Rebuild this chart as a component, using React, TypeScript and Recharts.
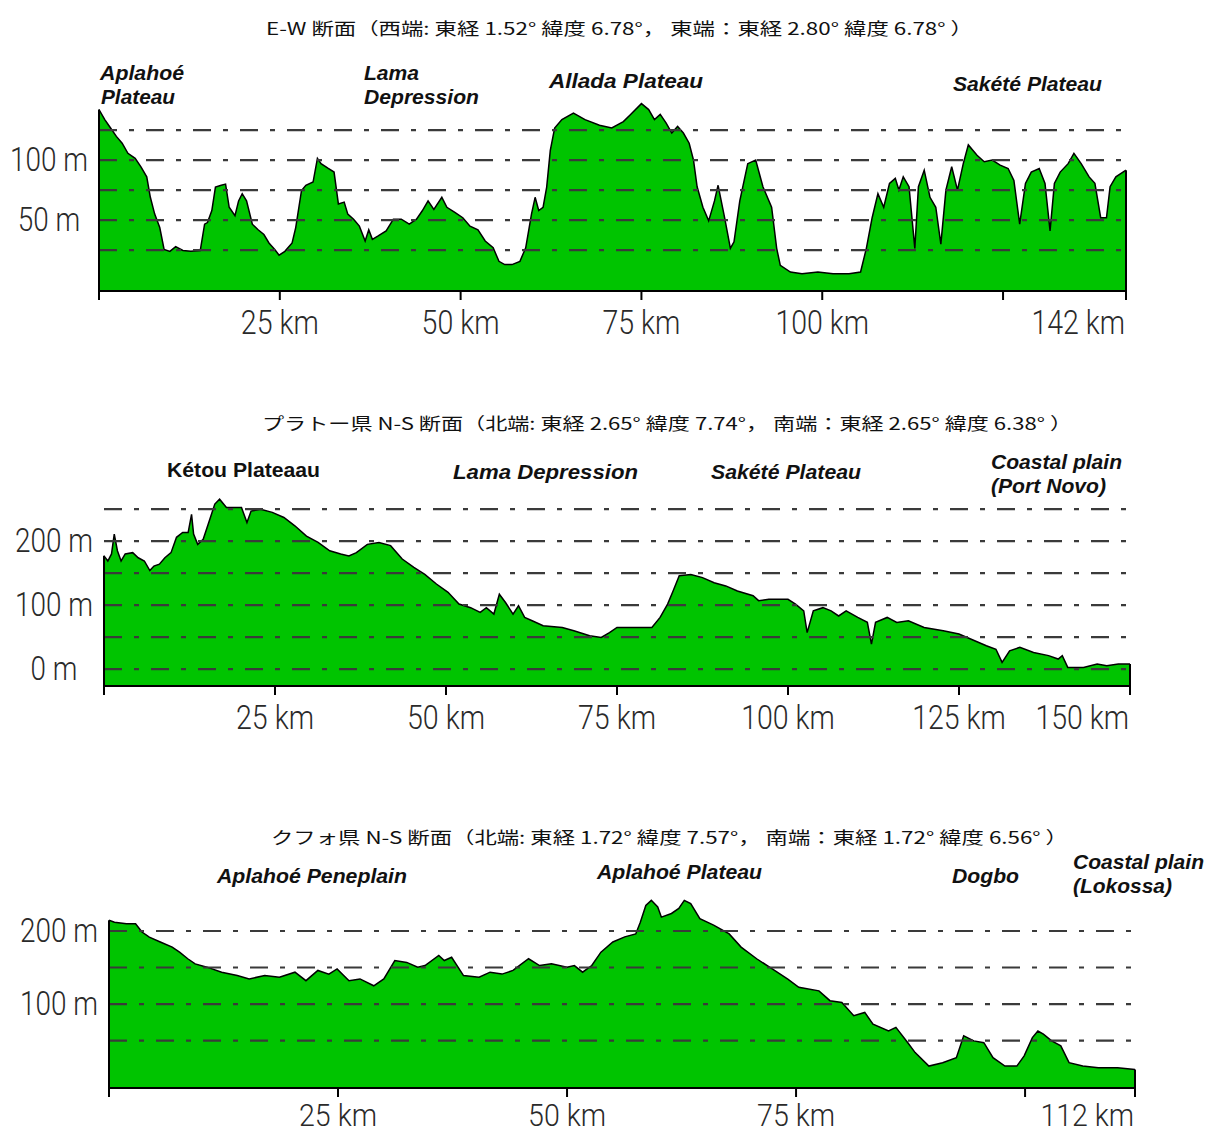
import React from 'react';
import { AreaChart, Area, XAxis, YAxis, ReferenceLine } from 'recharts';

// ---------- Chart 1 : E-W profile ----------
const EW_KM = [0, 0.8, 1.6, 2.4, 3.2, 4, 5, 5.8, 6.6, 7.1, 7.7, 8.4, 9, 9.8, 10.6, 11.6, 12.7, 14, 14.6, 15, 15.6, 16.1, 16.9, 17.5, 18, 18.8, 19.3, 19.8, 20.4, 21.2, 22, 22.8, 23.5, 24.3, 24.9, 25.7, 26.7, 27.2, 28, 28.6, 29.6, 30.2, 30.7, 31.7, 32.5, 33.1, 33.9, 34.4, 35.2, 36, 36.8, 37.3, 37.8, 38.6, 39.7, 40.7, 41.8, 42.9, 43.9, 44.7, 45.5, 46.3, 47.4, 48.1, 49.2, 50.3, 51.3, 52.4, 53.4, 54.5, 55.3, 56.1, 57.1, 58.2, 59, 59.8, 60.3, 60.8, 61.4, 61.9, 62.4, 63, 64, 65.6, 67.2, 69.2, 70.9, 72.5, 73.5, 75, 76, 76.8, 77.6, 78.4, 79.2, 80, 80.8, 81.6, 82.2, 82.7, 83.5, 84.3, 85.1, 85.6, 86.5, 87.3, 87.8, 88.6, 89.7, 90.8, 91.8, 93, 93.7, 94.2, 95.6, 97.2, 99.4, 101.5, 103.7, 105.3, 106.1, 106.9, 107.7, 108.5, 109.3, 110.1, 110.6, 111.2, 112, 112.8, 113.3, 114.1, 114.9, 115.7, 116.4, 117.1, 117.9, 118.7, 119.5, 120.2, 121.4, 122.4, 123.5, 124.6, 125.7, 126.5, 127.3, 128.1, 128.9, 130, 130.8, 131.5, 132.1, 132.9, 134, 134.8, 135.8, 136.9, 137.7, 138.5, 139.3, 139.8, 140.6, 142];
const EW_M = [142, 133.7, 126.7, 119.7, 114, 105.6, 101.4, 94.4, 86, 69, 55, 43.8, 25.6, 24, 28, 24.7, 24, 24.7, 46.6, 48, 58, 77.5, 79, 80, 60.7, 53.7, 66, 72, 66, 46.6, 42, 38, 31, 25.6, 20.8, 24, 31, 43.8, 74.7, 79, 81.7, 101.4, 97, 93, 90, 63.5, 65, 55, 50.8, 45, 32.6, 42, 34, 36.8, 41, 50.8, 50.8, 46.6, 50.8, 57.8, 66, 59, 69, 60.7, 56.5, 52, 45, 42, 32.6, 27, 15.7, 13, 13, 15.7, 27, 55, 69, 58, 60.7, 77.5, 108, 126.7, 133.7, 139, 133.7, 129, 126.7, 132, 138, 147, 142, 133.7, 138, 131, 122.5, 128, 122.5, 114, 100, 77.8, 60.7, 49.4, 66, 79, 52, 26.5, 32, 66, 97, 100, 77.8, 60.7, 26.5, 12.4, 6.8, 5.4, 6.8, 5.4, 5.4, 6.8, 26.5, 52, 72, 60.7, 80.6, 84.8, 75, 86, 77.8, 26.5, 77.8, 91.6, 69, 60.7, 30, 75, 94.4, 75, 97, 112.6, 104, 98.6, 100, 95.8, 93, 83, 46.6, 80.6, 90, 93, 80.6, 41, 80.6, 90, 97, 105.6, 97, 86, 80.6, 52, 52, 77.8, 86, 91.6];
const EW_XTICKS = [0, 25, 50, 75, 100, 125, 142];
const EW_XLABELED = [25, 50, 75, 100, 142];
const EW_GRID = [25, 50, 75, 100, 125];
const EW_YLABELED = [50, 100];

// ---------- Chart 2 : Plateau N-S profile ----------
const PL_KM = [0, 0.56, 1.1, 1.5, 1.96, 2.5, 3.1, 4.2, 5, 5.9, 6.7, 7.3, 8.1, 8.9, 9.8, 10.6, 11.5, 12.3, 12.8, 13.1, 13.7, 14.5, 15.4, 16.2, 16.9, 17.9, 19, 20.1, 20.9, 21.5, 22.9, 24.6, 26.3, 27.9, 29.6, 31.3, 33, 34.6, 35.8, 36.9, 38.5, 40.2, 41.9, 43.6, 45.3, 46.9, 48.6, 50.3, 51.9, 53.6, 55, 55.9, 57, 57.8, 58.7, 59.8, 60.6, 61.5, 62.6, 64.2, 67, 68.7, 71, 72.7, 73.9, 75, 77.3, 80.1, 81.3, 82.4, 83.2, 84.1, 85.8, 87.5, 89.2, 90.9, 92.6, 94.9, 95.7, 97.2, 100, 101.1, 102.3, 102.8, 103.7, 105.1, 106.3, 107.4, 108.5, 110.2, 111.6, 112.2, 112.8, 114.5, 115.9, 117.6, 119.9, 122.7, 125, 126.7, 129, 130.4, 131.3, 132.4, 133.9, 135.9, 138.1, 139.5, 140.1, 140.9, 143.2, 145.2, 146.6, 148.3, 150];
const PL_M = [177, 169, 180, 211, 185, 169, 180, 182, 174, 169, 154, 161, 164, 174, 182, 206, 213.5, 213.5, 242, 211, 195, 203, 232, 258, 265.6, 252.6, 252.6, 252.6, 229, 247, 250, 245, 237, 224, 208, 198, 185, 180, 177, 182, 195, 198, 193, 172, 159, 148, 133, 120, 101.6, 96, 88.5, 96, 86, 117, 104, 86, 99, 80.7, 75.5, 67.7, 65, 60, 52, 49.5, 57, 65, 65, 65, 80.7, 101.6, 122, 146, 148, 143, 135, 130, 122, 114.6, 107, 109, 109, 101.6, 91, 57, 91, 96, 91, 83, 91, 80.7, 73, 39, 73, 80.7, 73, 75.5, 65, 60, 54.7, 47, 36.5, 31, 10.4, 28.6, 34, 26, 21, 15.6, 21, 2.6, 2.6, 7.8, 5, 7.8, 7.8];
const PL_XTICKS = [0, 25, 50, 75, 100, 125, 150];
const PL_XLABELED = [25, 50, 75, 100, 125, 150];
const PL_GRID = [0, 50, 100, 150, 200, 250];
const PL_YLABELED = [0, 100, 200];

// ---------- Chart 3 : Couffo N-S profile ----------
const CO_KM = [0, 0.6, 1.9, 2.9, 3.6, 4.4, 5.6, 6.9, 7.7, 8.6, 9.4, 10.7, 12.3, 14, 15.3, 17, 18.6, 20.3, 21.5, 22.8, 24, 24.9, 26.2, 27.4, 28.9, 30, 31.2, 32.5, 33.7, 34.5, 36, 36.6, 37.4, 38.7, 40.4, 41.6, 42.9, 44.1, 45.8, 47, 48.3, 50, 50.8, 51.7, 52.7, 53.7, 55, 56.3, 57.5, 58, 58.6, 59.2, 59.9, 60.3, 61.4, 62.2, 62.8, 63.5, 64.5, 66, 67.7, 69, 70.7, 72.4, 74.1, 75.3, 77.5, 78.7, 80, 81.3, 82.5, 83.4, 85.1, 85.9, 87.2, 88, 89.5, 91, 92.5, 93.3, 94.4, 95.5, 96.5, 97.8, 99.1, 99.9, 100.8, 101.4, 102, 102.9, 103.9, 104.8, 106.3, 108, 110.1, 112];
const CO_M = [214.7, 212, 210, 210, 198.6, 191.7, 185, 178, 171, 162, 155, 150.5, 143.6, 139, 134.4, 139, 136.7, 143.6, 132, 146, 141, 148, 132, 134.4, 125, 134.4, 159.6, 157, 150.5, 152.7, 166.5, 159.6, 164, 139, 136.7, 143.6, 141, 146, 162, 152.7, 155, 150.5, 152.7, 143.6, 152.7, 171, 185, 192, 196, 212, 235, 242, 233, 219, 224, 231, 242, 237.6, 217, 208, 196, 178, 162, 148, 134, 123, 118, 104.6, 102, 84, 88.5, 72.5, 63, 68, 47, 33.5, 15, 19.7, 26.6, 56.4, 49.5, 47, 26.6, 15, 15, 29, 54, 63, 58.7, 49.5, 42.7, 19.7, 15, 12.8, 12.8, 10.5];
const CO_XTICKS = [0, 25, 50, 75, 100, 112];
const CO_XLABELED = [25, 50, 75, 112];
const CO_GRID = [50, 100, 150, 200];
const CO_YLABELED = [100, 200];

// ---------- Titles and region names ----------
const TITLES = [
  'E-W 断面（西端: 東経 1.52°  緯度 6.78°，  東端：東経 2.80°  緯度 6.78°  ）',
  'プラトー県  N-S 断面（北端: 東経 2.65°  緯度 7.74°，  南端：東経 2.65°  緯度 6.38°  ）',
  'クフォ県  N-S 断面（北端: 東経 1.72°  緯度 7.57°，  南端：東経 1.72°  緯度 6.56°  ）',
];
const EW_REGIONS = ['Aplahoé', 'Plateau', 'Lama', 'Depression', 'Allada  Plateau', 'Sakété Plateau'];
const PL_REGIONS = ['Kétou Plateaau', 'Lama  Depression', 'Sakété Plateau', 'Coastal plain', '(Port Novo)'];
const CO_REGIONS = ['Aplahoé Peneplain', 'Aplahoé Plateau', 'Dogbo', 'Coastal plain', '(Lokossa)'];

const GREEN = '#00C400';
const GRID_COLOR = '#3a3a3a';
const AXIS_FONT = "Roboto, 'Liberation Sans', sans-serif";
const LABEL_FONT = "'Liberation Sans', Arial, sans-serif";
const CJK_FONT = "'Noto Sans CJK JP', 'Noto Sans CJK SC', sans-serif";
const CHAR_W = 15.6;

type Spec = {
  km: number[];
  m: number[];
  xTicks: number[];
  xLabeled: number[];
  grid: number[];
  yLabeled: number[];
  yDomain: [number, number];
  top: number;
  height: number;
  marginTop: number;
  marginRight: number;
  yWidth: number;
  xHeight: number;
  labelDy: number;
  labelSize: number;
};

function Profile({ spec }: { spec: Spec }) {
  const data = spec.km.map((k, i) => ({ km: k, m: spec.m[i] }));
  const lastKm = spec.km[spec.km.length - 1];
  const firstM = spec.m[0];
  const lastM = spec.m[spec.m.length - 1];
  const yMin = spec.yDomain[0];

  const XTick = (props: any) => {
    const { x, y, payload } = props;
    const v = payload.value;
    if (!spec.xLabeled.includes(v)) return <g />;
    const isLast = v === lastKm;
    const s = `${v} km`;
    return (
      <text
        x={isLast ? x - 1 : x}
        y={y + spec.labelDy}
        textAnchor={isLast ? 'end' : 'middle'}
        textLength={s.length * CHAR_W}
        lengthAdjust="spacingAndGlyphs"
        fontFamily={AXIS_FONT}
        fontWeight={300}
        fontSize={spec.labelSize}
        fill="#2a2a2a"
      >
        {s}
      </text>
    );
  };

  const YTick = (props: any) => {
    const { y, payload } = props;
    const v = payload.value;
    if (!spec.yLabeled.includes(v)) return <g />;
    const s = `${v} m`;
    return (
      <text
        x={spec.yWidth - 50}
        y={y + 11}
        textAnchor="middle"
        textLength={s.length * CHAR_W}
        lengthAdjust="spacingAndGlyphs"
        fontFamily={AXIS_FONT}
        fontWeight={300}
        fontSize={34}
        fill="#2a2a2a"
      >
        {s}
      </text>
    );
  };

  return (
    <div style={{ position: 'absolute', left: 0, top: spec.top }}>
      <AreaChart
        width={1209}
        height={spec.height}
        data={data}
        margin={{ top: spec.marginTop, right: spec.marginRight, left: 0, bottom: 0 }}
      >
        <XAxis
          dataKey="km"
          type="number"
          domain={[0, lastKm]}
          allowDataOverflow
          ticks={spec.xTicks}
          interval={0}
          height={spec.xHeight}
          tickSize={9}
          axisLine={{ stroke: '#000', strokeWidth: 2 }}
          tickLine={{ stroke: '#000', strokeWidth: 2 }}
          tick={XTick}
        />
        <YAxis
          type="number"
          domain={spec.yDomain}
          allowDataOverflow
          ticks={spec.grid}
          interval={0}
          width={spec.yWidth}
          axisLine={false}
          tickLine={false}
          tick={YTick}
        />
        <Area
          type="linear"
          dataKey="m"
          stroke="#000"
          strokeWidth={1.5}
          fill={GREEN}
          fillOpacity={1}
          baseValue="dataMin"
          isAnimationActive={false}
          dot={false}
          activeDot={false}
        />
        {spec.grid.map((g) => (
          <ReferenceLine
            key={g}
            y={g}
            stroke={GRID_COLOR}
            strokeWidth={2.2}
            strokeDasharray="18 12 5 12"
          />
        ))}
        <ReferenceLine
          segment={[{ x: 0, y: yMin }, { x: 0, y: firstM }]}
          stroke="#000"
          strokeWidth={2}
        />
        <ReferenceLine
          segment={[{ x: lastKm, y: yMin }, { x: lastKm, y: lastM }]}
          stroke="#000"
          strokeWidth={2}
        />
      </AreaChart>
    </div>
  );
}

const SPECS: Spec[] = [
  {
    km: EW_KM, m: EW_M, xTicks: EW_XTICKS, xLabeled: EW_XLABELED, grid: EW_GRID, yLabeled: EW_YLABELED,
    yDomain: [-9, 150], top: 0, height: 345, marginTop: 100, marginRight: 83, yWidth: 99, xHeight: 54,
    labelDy: 32, labelSize: 34,
  },
  {
    km: PL_KM, m: PL_M, xTicks: PL_XTICKS, xLabeled: PL_XLABELED, grid: PL_GRID, yLabeled: PL_YLABELED,
    yDomain: [-26.5, 280], top: 400, height: 340, marginTop: 90, marginRight: 79, yWidth: 104, xHeight: 54,
    labelDy: 32, labelSize: 34,
  },
  {
    km: CO_KM, m: CO_M, xTicks: CO_XTICKS, xLabeled: CO_XLABELED, grid: CO_GRID, yLabeled: CO_YLABELED,
    yDomain: [-15, 250], top: 840, height: 293, marginTop: 54.5, marginRight: 74, yWidth: 109, xHeight: 45,
    labelDy: 27, labelSize: 32,
  },
];

function Label({ x, y, w, text, italic = true }: { x: number; y: number; w: number; text: string; italic?: boolean }) {
  return (
    <text
      x={x}
      y={y}
      textLength={w}
      lengthAdjust="spacingAndGlyphs"
      fontFamily={LABEL_FONT}
      fontWeight="bold"
      fontStyle={italic ? 'italic' : 'normal'}
      fontSize={20}
      fill="#111"
    >
      {text}
    </text>
  );
}

function Title({ x, y, w, text }: { x: number; y: number; w: number; text: string }) {
  return (
    <text
      x={x}
      y={y}
      textLength={w}
      lengthAdjust="spacingAndGlyphs"
      fontFamily={CJK_FONT}
      fontSize={17}
      fill="#111"
    >
      {text}
    </text>
  );
}

export default function App() {
  return (
    <div style={{ position: 'absolute', left: 0, top: 0, width: 1209, height: 1133, background: '#fff', overflow: 'hidden' }}>
      {SPECS.map((s, i) => (
        <Profile key={i} spec={s} />
      ))}
      <svg width={1209} height={1133} style={{ position: 'absolute', left: 0, top: 0, pointerEvents: 'none' }}>
        <Title x={266} y={35} w={707} text={TITLES[0]} />
        <Title x={262} y={430} w={810} text={TITLES[1]} />
        <Title x={271} y={844} w={797} text={TITLES[2]} />

        <Label x={100} y={80} w={84} text={EW_REGIONS[0]} />
        <Label x={101} y={104} w={74} text={EW_REGIONS[1]} />
        <Label x={364} y={80} w={55} text={EW_REGIONS[2]} />
        <Label x={364} y={104} w={115} text={EW_REGIONS[3]} />
        <Label x={549} y={88} w={154} text={EW_REGIONS[4]} />
        <Label x={953} y={91} w={149} text={EW_REGIONS[5]} />

        <Label x={167} y={477} w={153} text={PL_REGIONS[0]} italic={false} />
        <Label x={453} y={479} w={185} text={PL_REGIONS[1]} />
        <Label x={711} y={479} w={150} text={PL_REGIONS[2]} />
        <Label x={991} y={469} w={131} text={PL_REGIONS[3]} />
        <Label x={991} y={493} w={115} text={PL_REGIONS[4]} />

        <Label x={217} y={883} w={190} text={CO_REGIONS[0]} />
        <Label x={597} y={879} w={165} text={CO_REGIONS[1]} />
        <Label x={952} y={883} w={67} text={CO_REGIONS[2]} />
        <Label x={1073} y={869} w={131} text={CO_REGIONS[3]} />
        <Label x={1073} y={893} w={99} text={CO_REGIONS[4]} />
      </svg>
    </div>
  );
}
